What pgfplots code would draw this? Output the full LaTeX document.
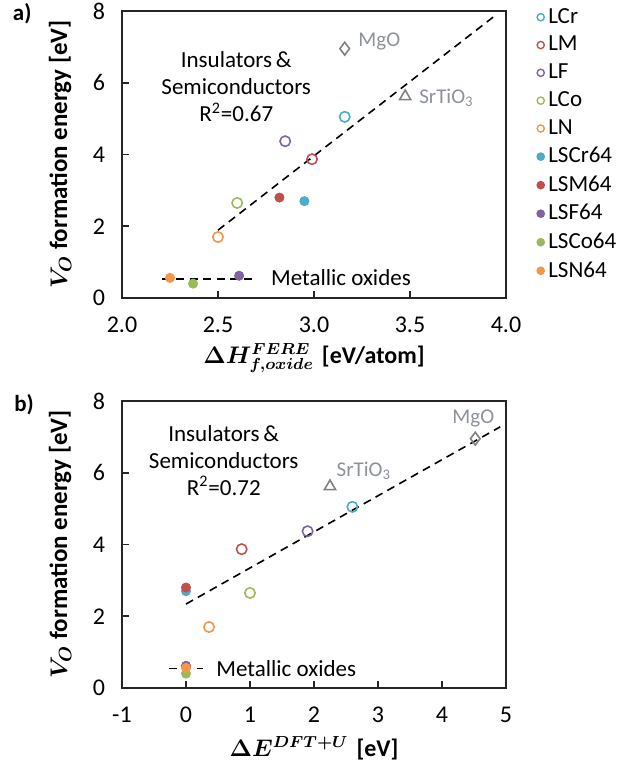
\documentclass[border=0pt]{standalone}
\usepackage{pgfplots}
\pgfplotsset{compat=1.18}
\usepackage{fontspec}
\setmainfont{Carlito}
\usepackage{bm}
\definecolor{cLCr}{RGB}{75,172,198}
\definecolor{cLM}{RGB}{192,80,77}
\definecolor{cLF}{RGB}{128,100,162}
\definecolor{cLCo}{RGB}{155,187,89}
\definecolor{cLN}{RGB}{247,150,70}
\definecolor{cRef}{RGB}{128,128,128}
\definecolor{cRefTxt}{RGB}{140,145,155}
\pgfplotsset{
  myaxis/.style={
    scale only axis, width=192pt, height=143.5pt,
    ymin=0, ymax=8, ytick={0,2,4,6,8}, yticklabels={0,2,4,6,8},
    axis line style={line width=1pt, black!85},
    tick align=inside, xtick pos=bottom, ytick pos=left,
    major tick length=3.5pt,
    tick style={line width=0.8pt, black!85},
    ticklabel style={font=\fontsize{12}{13}\selectfont},
    xticklabel style={yshift=-6pt},
    yticklabel style={xshift=-5pt},
    ylabel={$\bm{V_O}$ \textbf{formation energy [eV]}},
    ylabel style={at={(axis description cs:-0.161,0.5)}, anchor=center, font=\fontsize{12.5}{14}\selectfont},
    xlabel style={at={(axis description cs:0.5,-0.21)}, anchor=center, font=\fontsize{12}{14}\selectfont},
    clip=false,
  },
  op/.style={only marks, mark=o, mark size=2.6pt, line width=0.8pt, color=#1},
  fi/.style={only marks, mark=*, mark size=2.3pt, color=#1, mark options={fill=#1, draw=#1}},
  trend/.style={black, dashed, line width=0.8pt, dash pattern=on 4pt off 2.8pt, forget plot},
}
\begin{document}
\begin{tikzpicture}
% ---------- panel a ----------
\begin{axis}[myaxis, at={(0,195pt)},
  xmin=2, xmax=4, xtick={2,2.5,3,3.5,4}, xticklabels={2.0,2.5,3.0,3.5,4.0},
  xlabel={$\bm{\Delta H^{FERE}_{f,oxide}}$\hspace{4pt}\textbf{[eV/atom]}},
  legend style={draw=none, fill=none, at={(axis description cs:1.08,1.025)}, anchor=north west,
    font=\fontsize{11.5}{13}\selectfont, row sep=1.0pt, inner sep=0pt},
  legend cell align=left,
  legend image code/.code={\draw[#1, mark size=1.8pt, line width=0.7pt] plot coordinates {(0.1cm,0cm)};},
]
\addplot[op=cLCr] coordinates {(3.16,5.05)};
\addlegendentry{LCr}
\addplot[op=cLM] coordinates {(2.99,3.87)};
\addlegendentry{LM}
\addplot[op=cLF] coordinates {(2.85,4.37)};
\addlegendentry{LF}
\addplot[op=cLCo] coordinates {(2.60,2.65)};
\addlegendentry{LCo}
\addplot[op=cLN] coordinates {(2.50,1.70)};
\addlegendentry{LN}
\addplot[fi=cLCr] coordinates {(2.95,2.70)};
\addlegendentry{LSCr64}
\addplot[fi=cLM] coordinates {(2.82,2.80)};
\addlegendentry{LSM64}
\addplot[fi=cLF] coordinates {(2.61,0.62)};
\addlegendentry{LSF64}
\addplot[fi=cLCo] coordinates {(2.37,0.40)};
\addlegendentry{LSCo64}
\addplot[fi=cLN] coordinates {(2.25,0.56)};
\addlegendentry{LSN64}
\addplot[only marks, mark=diamond, mark size=3.2pt, line width=0.8pt, color=cRef, forget plot] coordinates {(3.16,6.95)};
\addplot[only marks, mark=triangle, mark size=3.2pt, line width=0.8pt, color=cRef, forget plot] coordinates {(3.475,5.62)};
\addplot[trend] coordinates {(2.5,1.89) (3.95,7.9)};
\addplot[trend] coordinates {(2.21,0.53) (2.68,0.53)};
\node[align=center, font=\fontsize{11.5}{13.5}\selectfont] at (axis cs:2.595,5.88) {Insulators\,\&\\Semiconductors\\R\textsuperscript{2}=0.67};
\node[anchor=west, inner sep=0pt, font=\fontsize{11.5}{13}\selectfont] at (axis cs:2.775,0.56) {Metallic oxides};
\node[font=\fontsize{10.5}{12}\selectfont, text=cRefTxt] at (axis cs:3.34,7.14) {MgO};
\node[font=\fontsize{10.5}{12}\selectfont, text=cRefTxt] at (axis cs:3.69,5.58) {SrTiO\textsubscript{3}};
\node[font=\bfseries\fontsize{11.5}{13}\selectfont] at (axis description cs:-0.26,0.99) {a)};
\end{axis}
% ---------- panel b ----------
\begin{axis}[myaxis, at={(0,0)},
  xmin=-1, xmax=5, xtick={-1,0,1,2,3,4,5}, xticklabels={-1,0,1,2,3,4,5},
  xlabel={$\bm{\Delta E^{DFT+U}}$\hspace{4pt}\textbf{[eV]}},
]
\addplot[op=cLCr] coordinates {(2.60,5.05)};
\addplot[op=cLM] coordinates {(0.87,3.87)};
\addplot[op=cLF] coordinates {(1.90,4.37)};
\addplot[op=cLCo] coordinates {(1.00,2.65)};
\addplot[op=cLN] coordinates {(0.36,1.70)};
\addplot[fi=cLCr] coordinates {(0,2.70)};
\addplot[fi=cLM] coordinates {(0,2.80)};
\addplot[fi=cLF] coordinates {(0,0.62)};
\addplot[fi=cLCo] coordinates {(0,0.40)};
\addplot[fi=cLN] coordinates {(0,0.56)};
\addplot[only marks, mark=diamond, mark size=3.2pt, line width=0.8pt, color=cRef] coordinates {(4.52,6.95)};
\addplot[only marks, mark=triangle, mark size=3.2pt, line width=0.8pt, color=cRef] coordinates {(2.25,5.62)};
\addplot[trend] coordinates {(0,2.34) (4.91,7.28)};
\addplot[trend] coordinates {(-0.26,0.54) (0.26,0.54)};
\node[align=center, font=\fontsize{11.5}{13.5}\selectfont] at (axis cs:0.59,6.35) {Insulators\,\&\\Semiconductors\\R\textsuperscript{2}=0.72};
\node[anchor=west, inner sep=0pt, font=\fontsize{11.5}{13}\selectfont] at (axis cs:0.47,0.54) {Metallic oxides};
\node[font=\fontsize{10.5}{12}\selectfont, text=cRefTxt] at (axis cs:4.49,7.52) {MgO};
\node[font=\fontsize{10.5}{12}\selectfont, text=cRefTxt] at (axis cs:2.78,6.05) {SrTiO\textsubscript{3}};
\node[font=\bfseries\fontsize{11.5}{13}\selectfont] at (axis description cs:-0.255,0.986) {b)};
\end{axis}
\pgfresetboundingbox
\path[use as bounding box] (-61pt,-39.5pt) rectangle (247.5pt,344pt);
\end{tikzpicture}
\end{document}
